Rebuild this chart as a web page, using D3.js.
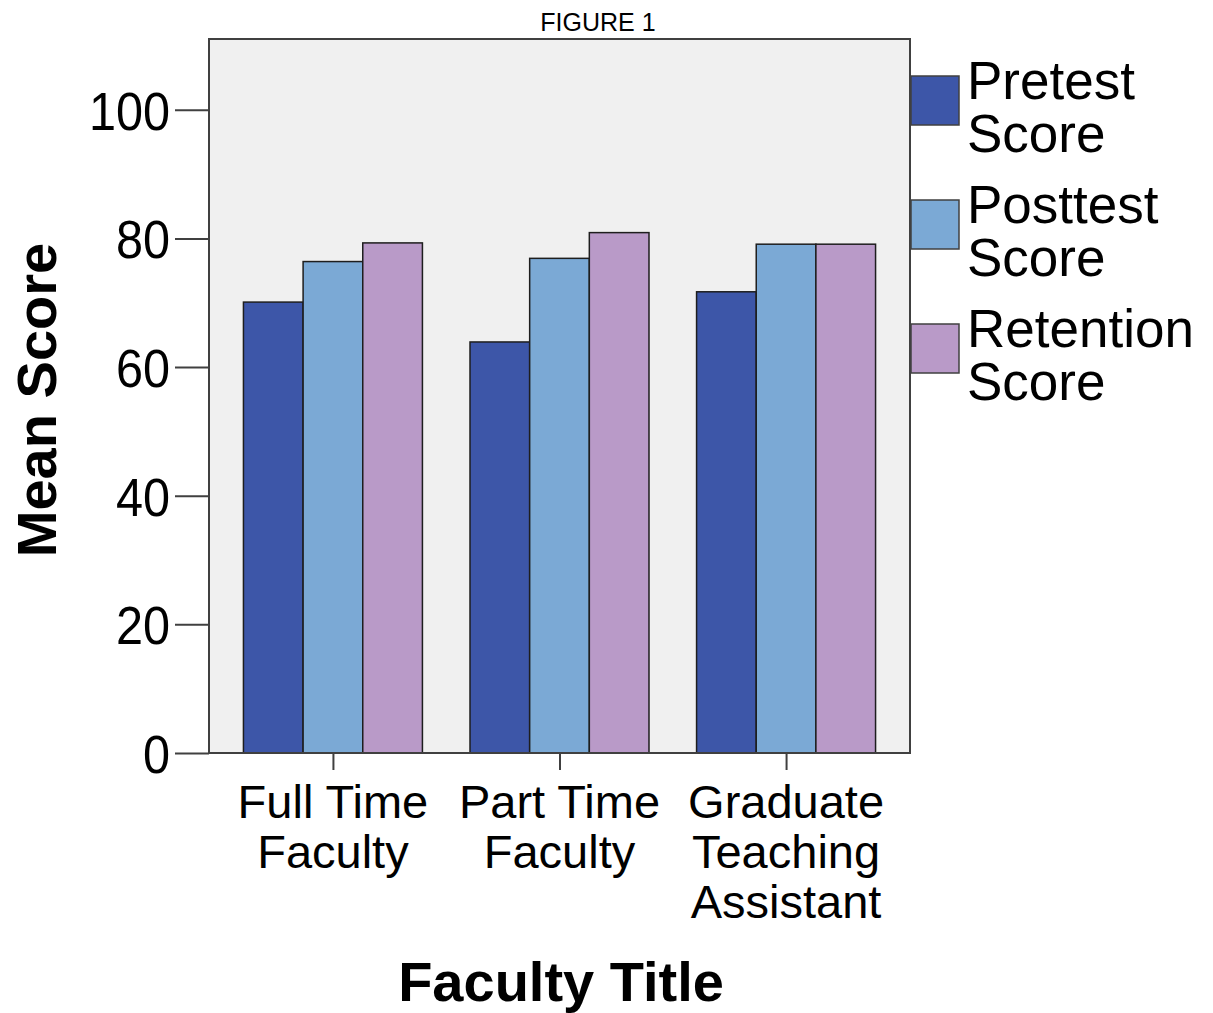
<!DOCTYPE html>
<html>
<head>
<meta charset="utf-8">
<script src="https://cdn.jsdelivr.net/npm/d3@7"></script>
<style>
  html, body { margin: 0; padding: 0; background: #ffffff; }
  text { font-family: "Liberation Sans", Arial, sans-serif; fill: #000; }
</style>
</head>
<body>
<svg id="chart" width="1213" height="1013"></svg>
<script>
const categories = [["Full Time", "Faculty"], ["Part Time", "Faculty"], ["Graduate", "Teaching", "Assistant"]];
const categoryKeys = ["Full Time Faculty", "Part Time Faculty", "Graduate Teaching Assistant"];
const seriesNames = [["Pretest", "Score"], ["Posttest", "Score"], ["Retention", "Score"]];
const pretest = [70.1, 63.9, 71.7];
const posttest = [76.4, 76.9, 79.1];
const retention = [79.3, 80.9, 79.1];
const yTicks = [0, 20, 40, 60, 80, 100];
const colors = ["#3d56a8", "#7ba9d5", "#b99ac8"];

const series = [pretest, posttest, retention];
const svg = d3.select("#chart");

const L = 209, R = 910, T = 39, B = 753;

const y = d3.scaleLinear().domain([0, 111]).range([B, T]);
const x0 = d3.scaleBand().domain(categoryKeys).range([L, R]).paddingInner(0.21).paddingOuter(0.152);
const x1 = d3.scaleBand().domain([0, 1, 2]).range([0, x0.bandwidth()]);

// title
svg.append("text").attr("x", 598).attr("y", 31).attr("text-anchor", "middle")
  .attr("font-size", 25).text("FIGURE 1");

// plot background
svg.append("rect").attr("x", L).attr("y", T).attr("width", R - L).attr("height", B - T)
  .attr("fill", "#f0f0f0");

// bars
const groups = svg.append("g").selectAll("g").data(categoryKeys).join("g")
  .attr("transform", d => `translate(${x0(d)},0)`);
groups.selectAll("rect").data((d, i) => series.map((s, j) => ({ j, v: s[i] }))).join("rect")
  .attr("x", d => x1(d.j))
  .attr("y", d => y(d.v))
  .attr("width", x1.bandwidth())
  .attr("height", d => y(0) - y(d.v))
  .attr("fill", d => colors[d.j])
  .attr("stroke", "#1e1e1e")
  .attr("stroke-width", 1.5);

// frame
svg.append("rect").attr("x", L).attr("y", T).attr("width", R - L).attr("height", B - T)
  .attr("fill", "none").attr("stroke", "#404040").attr("stroke-width", 2);

// y axis
const yAxis = d3.axisLeft(y).tickValues(yTicks).tickSize(34).tickPadding(5).tickFormat(d3.format("d"));
const yg = svg.append("g").attr("transform", `translate(${L},0)`).call(yAxis);
yg.select(".domain").remove();
yg.selectAll(".tick line").attr("stroke", "#404040").attr("stroke-width", 2);
yg.selectAll(".tick text").attr("font-size", 54).attr("font-family", "Liberation Sans, Arial, sans-serif")
  .attr("fill", "#000").attr("dy", "0.36em")
  .attr("transform", function () { return `translate(-39,0) scale(0.9,1) translate(39,0)`; });

// x axis
const xAxis = d3.axisBottom(d3.scalePoint().domain(categoryKeys).range([x0(categoryKeys[0]) + x0.bandwidth() / 2, x0(categoryKeys[2]) + x0.bandwidth() / 2]))
  .tickSize(17).tickFormat("");
const xg = svg.append("g").attr("transform", `translate(0,${B})`).call(xAxis);
xg.select(".domain").remove();
xg.selectAll(".tick line").attr("stroke", "#404040").attr("stroke-width", 2);

// x labels
categoryKeys.forEach((k, i) => {
  const cx = x0(k) + x0.bandwidth() / 2;
  const t = svg.append("text").attr("text-anchor", "middle").attr("font-size", 47);
  categories[i].forEach((line, li) => {
    t.append("tspan").attr("x", cx).attr("y", 818 + li * 50).text(line);
  });
});

// axis titles
svg.append("text").attr("x", 561).attr("y", 1001).attr("text-anchor", "middle")
  .attr("font-size", 56).attr("font-weight", "bold").text("Faculty Title");
svg.append("text").attr("transform", "translate(56,400) rotate(-90)").attr("text-anchor", "middle")
  .attr("font-size", 56).attr("font-weight", "bold").text("Mean Score");

// legend
const lg = svg.append("g").selectAll("g").data(seriesNames).join("g")
  .attr("transform", (d, i) => `translate(911,${76 + i * 124})`);
lg.append("rect").attr("width", 48).attr("height", 49)
  .attr("fill", (d, i) => colors[i]).attr("stroke", "#404040").attr("stroke-width", 1.5);
lg.append("text").attr("font-size", 53).each(function (d) {
  const t = d3.select(this);
  d.forEach((line, li) => t.append("tspan").attr("x", 56).attr("y", 23 + li * 53).text(line));
});
</script>
</body>
</html>
